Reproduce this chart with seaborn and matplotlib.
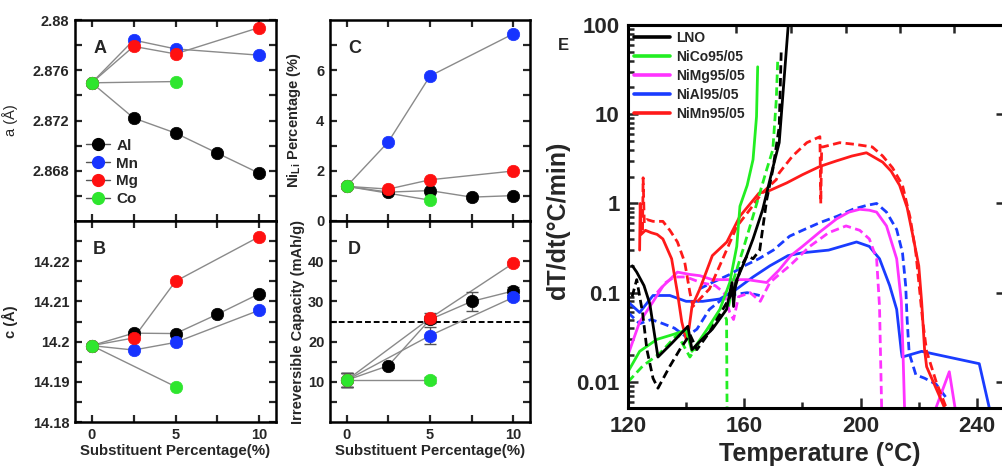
import numpy as np
import pandas as pd
import matplotlib
matplotlib.use("Agg")
import matplotlib.pyplot as plt
from matplotlib.lines import Line2D
from matplotlib.ticker import FixedLocator, FuncFormatter, LogLocator, NullFormatter
import seaborn as sns

# ---------------- Panels A-D data ----------------
pct_al = [0, 2.5, 5, 7.5, 10]
pct_mn = [0, 2.5, 5, 10]
pct_mg = [0, 2.5, 5, 10]
pct_co = [0, 5]

a_al = [2.875, 2.8722, 2.8710, 2.8694, 2.8678]
a_mn = [2.875, 2.8784, 2.8777, 2.8772]
a_mg = [2.875, 2.8779, 2.8773, 2.8794]
a_co = [2.875, 2.8751]

c_al = [14.199, 14.2021, 14.2020, 14.2068, 14.2119]
c_mn = [14.199, 14.1979, 14.1998, 14.2078]
c_mg = [14.199, 14.2009, 14.2150, 14.2261]
c_co = [14.199, 14.1888]

nili_al = [1.38, 1.15, 1.21, 0.95, 1.01]
nili_mn = [1.38, 3.15, 5.77, 7.45]
nili_mg = [1.38, 1.27, 1.64, 1.99]
nili_co = [1.38, 0.83]

irr_pct_al = [0, 2.5, 5, 7.5, 10]
irr_pct_mn = [0, 5, 10]
irr_pct_mg = [0, 5, 10]
irr_pct_co = [0, 5]
irr_al = [10.4, 14.0, 25.5, 30.0, 32.6]
irr_al_err = [1.8, 0.5, 0.8, 2.4, 1.1]
irr_mn = [10.4, 21.5, 31.0]
irr_mn_err = [1.8, 2.1, 0.6]
irr_mg = [10.4, 25.8, 39.5]
irr_mg_err = [1.8, 1.2, 0.4]
irr_co = [10.4, 10.4]
irr_co_err = [1.8, 0.8]
irr_threshold = 25

elements = ["Al", "Mn", "Mg", "Co"]
el_colors = {"Al": "#000000", "Mn": "#1733ff", "Mg": "#ff1010", "Co": "#2ee62e"}

# ---------------- Panel E data ----------------
lno_T = [121.5, 123, 125.5, 127.5, 130.3, 135, 140, 140.6, 142, 145, 149, 153.9, 155, 155.8, 156.3,
         157, 160, 163, 166.3, 169.8, 172, 175.3]
lno_v = [0.2, 0.17, 0.12, 0.075, 0.019, 0.027, 0.04, 0.042, 0.023, 0.029, 0.039, 0.065, 0.1, 0.13, 0.07,
         0.13, 0.22, 0.4, 0.85, 2.5, 4.8, 120]
lno_d_T = [121.4, 123, 125, 126.5, 128.6, 130.3, 134.4, 137.8, 141.3, 143.7, 148, 152.6, 156.7, 159, 161,
           163, 165.3, 167.7, 169.8, 172, 172.7]
lno_d_v = [0.09, 0.14, 0.06, 0.023, 0.011, 0.0085, 0.015, 0.023, 0.034, 0.023, 0.036, 0.065, 0.11, 0.2,
           0.26, 0.24, 0.3, 1.1, 2.4, 7.2, 52]

co_T = [120, 124, 130, 135.5, 140, 142, 147, 151.6, 155, 157.4, 158.5, 161, 163, 164.2, 164.6]
co_v = [0.013, 0.022, 0.03, 0.034, 0.038, 0.022, 0.038, 0.065, 0.13, 0.33, 0.93, 1.6, 3.1, 9.4, 34]
co_d1_T = [120, 125, 131, 137, 141.3, 144.7, 150.5, 153.3, 153.9, 154.1]
co_d1_v = [0.01, 0.015, 0.021, 0.034, 0.019, 0.028, 0.055, 0.055, 0.05, 0.003]
co_d2_T = [154.6, 156, 159.5, 163, 167.7, 169.8, 171, 171.5]
co_d2_v = [0.07, 0.13, 0.3, 0.72, 2.4, 4.0, 14.5, 41]

mg_T = [120, 124, 128.6, 132, 137, 141.3, 144.7, 149, 155, 161, 167.7, 172, 176, 180, 186, 191.7, 196,
        199.7, 203, 205.5, 208.9, 212.4, 214, 214.6, 215.2, 224.7, 230.5, 233]
mg_v = [0.02, 0.047, 0.079, 0.118, 0.17, 0.16, 0.155, 0.14, 0.14, 0.14, 0.13, 0.18, 0.26, 0.33, 0.48,
        0.67, 0.8, 0.86, 0.84, 0.8, 0.56, 0.24, 0.08, 0.02, 0.004, 0.004, 0.013, 0.004]
mg_d_T = [130, 133, 136, 140, 145, 150, 153, 155, 156.3, 158, 162, 165.5, 168.8, 172, 175.6, 182.5,
          189, 195, 199.7, 203, 205.5, 206.5, 207.3]
mg_d_v = [0.1, 0.13, 0.15, 0.15, 0.13, 0.12, 0.1, 0.06, 0.05, 0.09, 0.1, 0.08, 0.13, 0.16, 0.2, 0.33,
          0.47, 0.56, 0.5, 0.4, 0.24, 0.07, 0.004]

al_T = [120, 124, 128.6, 134.4, 140, 145.7, 151.6, 157.4, 163, 168.8, 175, 180, 189, 198.6, 203, 206.5,
        210, 212.4, 214, 214.3, 221, 240.8, 245]
al_v = [0.079, 0.06, 0.093, 0.093, 0.08, 0.08, 0.085, 0.11, 0.15, 0.2, 0.26, 0.28, 0.3, 0.37, 0.33, 0.24,
        0.12, 0.065, 0.022, 0.019, 0.022, 0.016, 0.004]
al_d1_T = [120, 124, 128, 132, 136, 140, 143.7, 148, 154, 161, 165.3]
al_d1_v = [0.06, 0.045, 0.05, 0.045, 0.04, 0.032, 0.039, 0.065, 0.093, 0.1, 0.093]
al_d2_T = [144.5, 149, 155, 160, 165, 170, 175.6, 180, 186, 192, 197.3, 202, 205.5, 208.9, 212.4, 214.4,
           215.5, 216, 216.7, 219, 222, 226, 229.5]
al_d2_v = [0.11, 0.13, 0.16, 0.2, 0.24, 0.3, 0.43, 0.5, 0.61, 0.72, 0.86, 0.95, 1.0, 0.8, 0.51, 0.28,
           0.12, 0.05, 0.021, 0.012, 0.011, 0.0094, 0.0066]

mn_T = [124, 124.2, 124.5, 126, 128, 130, 132, 135, 137, 138.5, 140, 141, 142, 144.7, 149, 154, 158.5,
        165, 168.8, 174.6, 180, 186, 191.7, 197, 202, 207.6, 210.5, 213.4, 216, 218, 220, 221, 222,
        222.7, 228.8]
mn_v = [0.3, 1.0, 0.45, 0.5, 0.47, 0.45, 0.4, 0.24, 0.1, 0.047, 0.03, 0.04, 0.07, 0.11, 0.26, 0.37, 0.72,
        1.3, 1.4, 1.7, 2.1, 2.6, 3.0, 3.4, 3.7, 2.9, 2.3, 1.6, 0.9, 0.43, 0.2, 0.078, 0.023, 0.0148, 0.0052]
mn_d_T = [125, 125.2, 125.6, 126.5, 128.6, 132, 134.4, 137, 139.5, 141.3, 142.3, 144.7, 148, 152.6,
          157.4, 162, 166, 171, 172, 176.6, 181.5, 186, 186.3, 186.6, 187, 192.8, 198, 204, 207.6, 211,
          214.4, 217, 219, 221.3, 222.7, 226, 229.6]
mn_d_v = [0.5, 1.94, 0.6, 0.66, 0.63, 0.63, 0.5, 0.37, 0.22, 0.1, 0.07, 0.085, 0.11, 0.24, 0.55, 0.86,
          1.3, 1.85, 2.2, 3.4, 4.8, 5.6, 1.0, 4.3, 4.3, 4.8, 4.6, 4.3, 3.4, 2.5, 1.6, 0.7, 0.28, 0.05,
          0.022, 0.01, 0.005]

e_names = ["LNO", "NiCo95/05", "NiMg95/05", "NiAl95/05", "NiMn95/05"]
e_colors = {"LNO": "#000000", "NiCo95/05": "#22ee22", "NiMg95/05": "#ff33ff",
            "NiAl95/05": "#1a3cff", "NiMn95/05": "#ff1a1a"}

# ---------------- Style ----------------
sns.set_theme(style="ticks")
plt.rcParams["font.family"] = ["Liberation Sans", "DejaVu Sans"]
plt.rcParams["font.weight"] = "bold"
plt.rcParams["mathtext.fontset"] = "custom"
plt.rcParams["mathtext.rm"] = "Liberation Sans"
plt.rcParams["mathtext.bf"] = "Liberation Sans:bold"

W, H = 1003, 467
fig = plt.figure(figsize=(W / 100, H / 100), dpi=100)


def box(l, t, r, b):
    return [l / W, 1 - b / H, (r - l) / W, (b - t) / H]


axA = fig.add_axes(box(75, 20, 276, 221))
axB = fig.add_axes(box(75, 221, 276, 422))
axC = fig.add_axes(box(330, 20, 530, 221))
axD = fig.add_axes(box(330, 221, 530, 422))
axE = fig.add_axes(box(628, 25, 1006, 408))

gfmt = FuncFormatter(lambda v, p: f"{v:g}")


def style_small(ax, show_x):
    ax.set_xlim(-1, 11)
    ax.xaxis.set_major_locator(FixedLocator([0, 5, 10]))
    ax.xaxis.set_minor_locator(FixedLocator([2.5, 7.5]))
    ax.tick_params(which="both", direction="in", top=True, right=True, width=1.6,
                   length=5, labelsize=10.5, pad=4)
    ax.yaxis.set_major_formatter(gfmt)
    for s in ax.spines.values():
        s.set_linewidth(1.8)
        s.set_color("black")
    if not show_x:
        ax.tick_params(axis="x", labelbottom=False)
    ax.set_xlabel("")
    ax.set_ylabel("")


def draw_series(ax, xs, ys, el):
    sns.lineplot(x=xs, y=ys, ax=ax, color="#8a8a8a", linewidth=1.0, estimator=None, sort=False)
    sns.scatterplot(x=xs, y=ys, ax=ax, color=el_colors[el], s=80, edgecolor=el_colors[el],
                    linewidth=0.5, zorder=5)


series_A = {"Al": (pct_al, a_al), "Mn": (pct_mn, a_mn), "Mg": (pct_mg, a_mg), "Co": (pct_co, a_co)}
series_B = {"Al": (pct_al, c_al), "Mn": (pct_mn, c_mn), "Mg": (pct_mg, c_mg), "Co": (pct_co, c_co)}
series_C = {"Al": (pct_al, nili_al), "Mn": (pct_mn, nili_mn), "Mg": (pct_mg, nili_mg), "Co": (pct_co, nili_co)}
series_D = {"Al": (irr_pct_al, irr_al, irr_al_err), "Mn": (irr_pct_mn, irr_mn, irr_mn_err),
            "Mg": (irr_pct_mg, irr_mg, irr_mg_err), "Co": (irr_pct_co, irr_co, irr_co_err)}

for el in elements:
    draw_series(axA, *series_A[el], el)
    draw_series(axB, *series_B[el], el)
    draw_series(axC, *series_C[el], el)

# D: lines, error bars, markers
axD.axhline(irr_threshold, color="black", linestyle=(0, (3, 1.5)), linewidth=1.4, zorder=1)
for el in elements:
    xs, ys, es = series_D[el]
    sns.lineplot(x=xs, y=ys, ax=axD, color="#8a8a8a", linewidth=1.0, estimator=None, sort=False)
    axD.errorbar(xs, ys, yerr=es, fmt="none", ecolor="#555555", elinewidth=1.0, capsize=4,
                 capthick=1.0, zorder=4)
for el in elements:
    xs, ys, es = series_D[el]
    sns.scatterplot(x=xs, y=ys, ax=axD, color=el_colors[el], s=80, edgecolor=el_colors[el],
                    linewidth=0.5, zorder=5)

style_small(axA, False)
style_small(axB, True)
style_small(axC, False)
style_small(axD, True)

axA.set_ylim(2.864, 2.88)
axA.yaxis.set_major_locator(FixedLocator([2.868, 2.872, 2.876, 2.88]))
axA.yaxis.set_minor_locator(FixedLocator([2.866, 2.870, 2.874, 2.878]))
axA.yaxis.set_major_formatter(FuncFormatter(lambda v, p: f"{v:.3f}".rstrip("0")))

axB.set_ylim(14.18, 14.23)
axB.yaxis.set_major_locator(FixedLocator([14.18, 14.19, 14.2, 14.21, 14.22]))
axB.yaxis.set_minor_locator(FixedLocator([14.185, 14.195, 14.205, 14.215, 14.225]))
axB.yaxis.set_major_formatter(FuncFormatter(lambda v, p: f"{v:.2f}".rstrip("0")))

axC.set_ylim(0, 8)
axC.yaxis.set_major_locator(FixedLocator([0, 2, 4, 6]))
axC.yaxis.set_minor_locator(FixedLocator([1, 3, 5, 7]))

axD.set_ylim(0, 50)
axD.yaxis.set_major_locator(FixedLocator([10, 20, 30, 40]))
axD.yaxis.set_minor_locator(FixedLocator([5, 15, 25, 35, 45]))

axA.set_ylabel("a (Å)", fontsize=10.5, fontweight="normal")
axA.yaxis.set_label_coords(-0.285, 0.5)
axB.set_ylabel("c (Å)", fontsize=10.5, fontweight="bold")
axB.yaxis.set_label_coords(-0.285, 0.5)
axC.set_ylabel(r"Ni$_{\mathrm{Li}}$ Percentage (%)", fontsize=10.5, fontweight="bold")
axC.yaxis.set_label_coords(-0.135, 0.5)
axD.set_ylabel("Irreversible Capacity (mAh/g)", fontsize=10.5, fontweight="bold")
axD.yaxis.set_label_coords(-0.125, 0.5)
for ax in (axB, axD):
    ax.set_xlabel("Substituent Percentage(%)", fontsize=10.8, fontweight="bold")
    ax.xaxis.set_label_coords(0.5, -0.11)

for ax, lab in ((axA, "A"), (axB, "B"), (axC, "C"), (axD, "D")):
    ax.text(0.09, 0.86, lab, transform=ax.transAxes, fontsize=13, fontweight="bold",
            ha="left", va="center")

handles_A = [Line2D([], [], color="#555555", linewidth=1.0, marker="o", markersize=8.5,
                    markerfacecolor=el_colors[el], markeredgecolor=el_colors[el]) for el in elements]
axA.legend(handles_A, elements, loc="lower left", bbox_to_anchor=(0.0, 0.02), frameon=False,
           fontsize=11, handlelength=1.6, handletextpad=0.4, labelspacing=0.25, borderaxespad=0.3)

# ---------------- Panel E ----------------
solid_style = dict(linewidth=2.0, estimator=None, sort=False)
dash = (0, (3, 1.6))


def eline(T, v, name, dashed):
    kw = dict(solid_style)
    if dashed:
        kw["linestyle"] = dash
    sns.lineplot(x=T, y=v, ax=axE, color=e_colors[name], **kw)


eline(al_d1_T, al_d1_v, "NiAl95/05", True)
eline(al_d2_T, al_d2_v, "NiAl95/05", True)
eline(al_T, al_v, "NiAl95/05", False)
eline(mg_d_T, mg_d_v, "NiMg95/05", True)
eline(mg_T, mg_v, "NiMg95/05", False)
eline(mn_d_T, mn_d_v, "NiMn95/05", True)
eline(mn_T, mn_v, "NiMn95/05", False)
eline(co_d1_T, co_d1_v, "NiCo95/05", True)
eline(co_d2_T, co_d2_v, "NiCo95/05", True)
eline(co_T, co_v, "NiCo95/05", False)
eline(lno_d_T, lno_d_v, "LNO", True)
eline(lno_T, lno_v, "LNO", False)

axE.set_yscale("log")
axE.set_xlim(120, 250)
axE.set_ylim(0.0051, 100)
axE.xaxis.set_major_locator(FixedLocator([120, 160, 200, 240]))
axE.xaxis.set_minor_locator(FixedLocator([140, 180, 220]))
axE.yaxis.set_major_locator(FixedLocator([0.01, 0.1, 1, 10, 100]))
axE.yaxis.set_major_formatter(gfmt)
axE.yaxis.set_minor_locator(LogLocator(base=10, subs=np.arange(2, 10) * 1.0, numticks=20))
axE.yaxis.set_minor_formatter(NullFormatter())
axE.tick_params(which="both", direction="in", width=1.8, labelsize=16, right=True)
axE.tick_params(which="major", length=7, pad=6)
axE.tick_params(which="minor", length=4, right=False)
for s in axE.spines.values():
    s.set_linewidth(2.2)
    s.set_color("black")
secx = axE.secondary_xaxis("top")
secx.set_xticks([157, 176, 195, 213.5, 232])
secx.tick_params(direction="in", length=6, width=1.8, labeltop=False)
secx.spines["top"].set_linewidth(2.2)

axE.set_xlabel("Temperature (°C)", fontsize=18, fontweight="bold")
axE.xaxis.set_label_coords(0.508, -0.09)
axE.set_ylabel("dT/dt(°C/min)", fontsize=18, fontweight="bold")
axE.yaxis.set_label_coords(-0.153, 0.49)
fig.text(563 / W, 1 - 45 / H, "E", fontsize=12, fontweight="bold", ha="center", va="center")

handles_E = [Line2D([], [], color=e_colors[n], linewidth=2.6) for n in e_names]
axE.legend(handles_E, e_names, loc="upper left", bbox_to_anchor=(0.0, 1.0), frameon=False,
           fontsize=10, handlelength=2.6, handletextpad=0.4, labelspacing=0.36,
           borderaxespad=0.15, borderpad=0.3)

fig.savefig("out.png", dpi=100)
